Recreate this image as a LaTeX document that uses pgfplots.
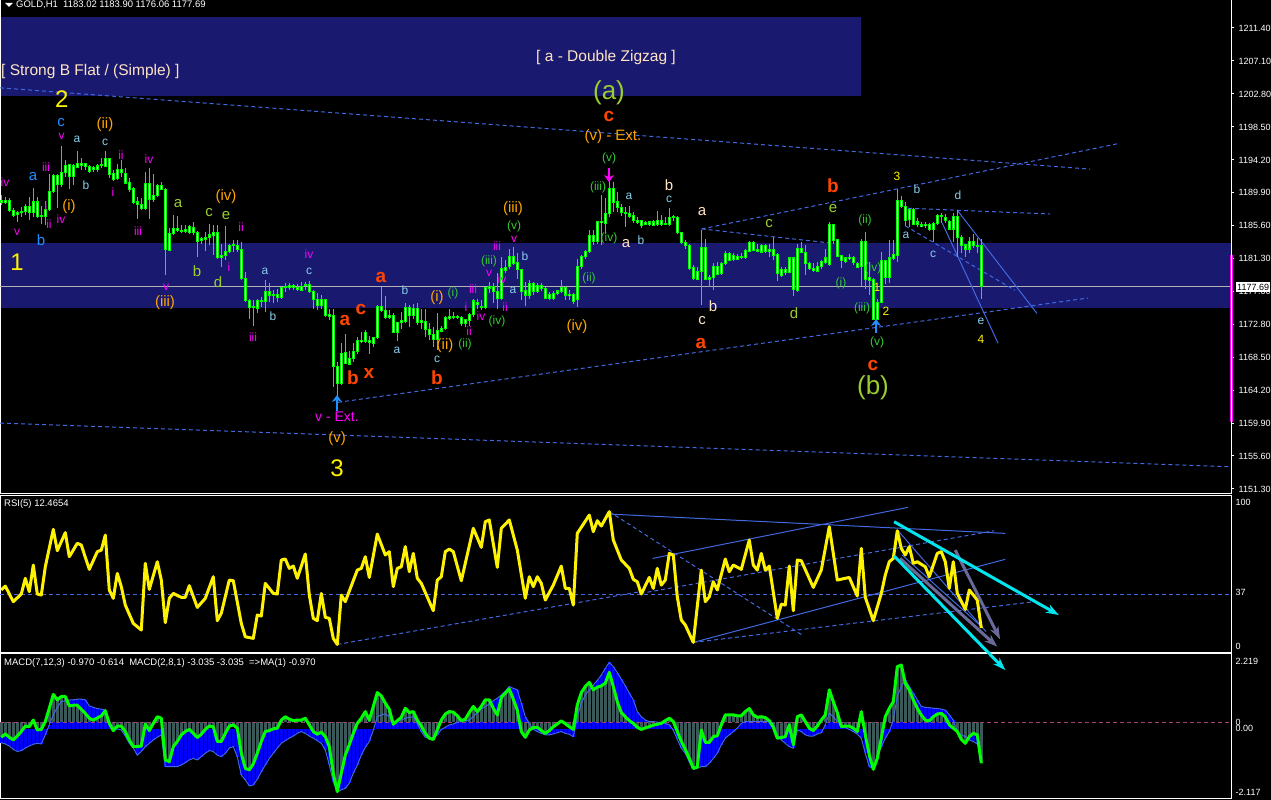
\documentclass[border=0pt]{standalone}
\usepackage{pgfplots}
\usepackage{pgfplotstable}
\usepackage{fontspec}
\setmainfont{Liberation Sans}
\pgfplotsset{compat=1.18}
\usetikzlibrary{arrows.meta}
\definecolor{band}{HTML}{191970}
\definecolor{tl}{HTML}{4169E1}
\definecolor{mag}{HTML}{FF00FF}
\definecolor{lb}{HTML}{87CEEB}
\definecolor{wor}{HTML}{FFA500}
\definecolor{wol}{HTML}{9ACD32}
\definecolor{wgr}{HTML}{32CD32}
\definecolor{wrd}{HTML}{FF4500}
\definecolor{wcr}{HTML}{FFE4C4}
\definecolor{wbl}{HTML}{1E90FF}
\definecolor{hgrey}{HTML}{3A5858}
\definecolor{harrow}{HTML}{6A6A9A}
\definecolor{carrow}{HTML}{00E5EE}
\newcommand{\wl}[5]{\node[text=#3,inner sep=0pt,font=\fontsize{#4}{#4}\selectfont] at ({#1pt},{800pt-#2pt}) {#5};}
\pgfplotstableread{
k h l t b
0 1189.6 1188.3 1188.9 1188.6
1 1189.4 1188.4 1188.9 1188.6
2 1189.2 1187.4 1188.9 1187.6
3 1187.9 1186.8 1187.6 1187.0
4 1187.6 1186.1 1187.3 1187.1
5 1188.1 1186.8 1187.4 1187.3
6 1188.4 1187.0 1188.1 1187.5
7 1189.3 1186.4 1188.1 1187.3
8 1190.6 1186.8 1188.7 1187.3
9 1189.4 1186.6 1188.7 1186.8
10 1188.2 1185.8 1186.9 1186.8
11 1188.9 1185.7 1187.7 1186.8
12 1192.4 1187.6 1190.1 1187.7
13 1192.4 1189.9 1192.1 1190.1
14 1192.4 1187.9 1192.1 1191.0
15 1196.0 1190.7 1192.6 1191.0
16 1194.2 1192.0 1193.5 1192.6
17 1193.7 1190.4 1193.6 1192.1
18 1193.7 1190.9 1193.4 1192.1
19 1195.3 1193.1 1193.7 1193.2
20 1194.4 1192.9 1193.7 1193.5
21 1193.8 1192.9 1193.7 1193.3
22 1193.5 1192.5 1193.3 1192.7
23 1193.4 1192.6 1193.2 1193.0
24 1193.7 1192.6 1193.4 1192.9
25 1194.5 1193.1 1193.6 1193.5
26 1195.4 1193.3 1194.4 1193.4
27 1194.5 1191.9 1194.4 1192.3
28 1192.9 1191.5 1192.4 1191.7
29 1193.7 1191.6 1192.9 1191.8
30 1194.2 1192.0 1192.9 1192.6
31 1193.1 1191.0 1192.4 1191.2
32 1191.8 1190.0 1191.2 1190.3
33 1190.7 1188.4 1190.4 1188.7
34 1189.3 1186.5 1188.7 1188.4
35 1189.2 1187.7 1188.4 1187.9
36 1192.6 1187.7 1191.1 1187.9
37 1193.2 1186.5 1191.1 1189.0
38 1192.4 1188.7 1189.6 1189.0
39 1191.1 1189.4 1190.9 1189.6
40 1191.3 1190.3 1190.9 1190.4
41 1190.5 1179.2 1190.3 1182.5
42 1185.3 1182.3 1184.6 1182.4
43 1187.0 1184.4 1185.3 1184.6
44 1186.9 1184.8 1185.3 1185.0
45 1185.7 1184.7 1185.0 1184.9
46 1185.7 1184.7 1185.1 1184.9
47 1185.7 1184.6 1185.5 1184.8
48 1186.1 1184.4 1185.4 1184.7
49 1184.9 1181.6 1184.7 1183.6
50 1184.2 1183.3 1183.9 1183.7
51 1184.8 1182.3 1184.1 1183.9
52 1185.9 1183.1 1184.4 1184.1
53 1185.7 1181.8 1184.7 1184.3
54 1185.7 1181.3 1184.7 1181.5
55 1183.3 1180.3 1181.7 1181.5
56 1185.6 1181.1 1182.2 1181.8
57 1183.3 1182.0 1183.0 1182.3
58 1183.7 1182.2 1183.1 1183.0
59 1183.8 1182.2 1183.0 1182.5
60 1183.5 1178.5 1182.5 1178.7
61 1179.6 1175.7 1178.7 1175.9
62 1176.1 1173.4 1175.9 1175.0
63 1175.9 1172.6 1175.1 1175.0
64 1176.1 1174.2 1175.9 1174.9
65 1176.3 1175.0 1175.9 1175.8
66 1178.5 1174.4 1177.0 1175.7
67 1178.2 1175.7 1177.0 1176.6
68 1177.2 1175.5 1176.6 1176.5
69 1177.4 1175.7 1176.6 1176.3
70 1177.6 1176.1 1177.6 1176.3
71 1178.1 1177.0 1177.7 1177.6
72 1178.1 1177.2 1177.8 1177.6
73 1178.0 1177.3 1177.8 1177.6
74 1178.0 1177.1 1177.6 1177.3
75 1178.3 1177.1 1177.7 1177.2
76 1178.3 1177.3 1177.9 1177.8
77 1178.4 1176.9 1177.9 1177.0
78 1177.3 1174.8 1177.0 1176.0
79 1176.8 1174.6 1176.0 1175.2
80 1176.6 1174.8 1176.0 1175.2
81 1176.1 1173.7 1176.0 1173.9
82 1174.8 1173.3 1174.0 1173.8
83 1174.8 1164.6 1173.9 1167.3
84 1167.9 1163.4 1167.3 1165.0
85 1170.3 1164.8 1168.9 1165.0
86 1171.5 1167.6 1169.1 1167.7
87 1169.3 1167.4 1168.3 1167.6
88 1170.3 1167.9 1169.2 1168.3
89 1171.1 1168.9 1170.7 1169.2
90 1171.8 1170.3 1170.7 1170.5
91 1172.0 1170.3 1171.7 1170.6
92 1171.3 1168.9 1170.6 1170.4
93 1171.1 1169.8 1171.0 1170.3
94 1175.3 1170.9 1175.1 1171.0
95 1177.6 1174.4 1175.1 1174.6
96 1176.4 1173.5 1174.6 1173.7
97 1174.6 1173.5 1173.9 1173.7
98 1174.2 1171.6 1173.9 1171.7
99 1173.1 1170.6 1173.0 1171.7
100 1174.4 1172.2 1173.2 1173.0
101 1175.5 1172.9 1174.9 1173.1
102 1175.3 1172.4 1174.9 1173.9
103 1175.4 1173.5 1174.8 1173.9
104 1175.5 1172.7 1174.8 1173.0
105 1174.8 1172.2 1173.2 1173.0
106 1174.8 1171.1 1173.1 1172.1
107 1172.9 1170.7 1172.1 1171.4
108 1172.4 1169.8 1171.4 1170.8
109 1174.2 1169.4 1171.9 1170.8
110 1172.6 1171.8 1172.2 1171.9
111 1173.8 1172.0 1173.6 1172.2
112 1174.7 1173.3 1173.8 1173.6
113 1174.4 1173.4 1173.8 1173.7
114 1174.0 1173.4 1173.8 1173.7
115 1173.8 1172.6 1173.6 1172.9
116 1173.5 1172.4 1173.4 1172.9
117 1174.2 1172.6 1174.0 1173.3
118 1176.1 1173.7 1175.8 1174.0
119 1176.1 1174.8 1175.6 1175.3
120 1175.9 1174.6 1175.1 1175.0
121 1177.6 1174.8 1177.5 1175.0
122 1178.3 1176.8 1177.7 1177.5
123 1178.1 1175.5 1177.7 1177.0
124 1179.4 1174.8 1177.0 1176.1
125 1181.6 1175.9 1180.0 1176.1
126 1181.1 1179.5 1180.2 1179.8
127 1182.6 1180.0 1181.6 1180.3
128 1182.9 1180.5 1181.6 1180.7
129 1182.0 1178.7 1180.8 1179.9
130 1180.0 1175.9 1179.9 1177.1
131 1178.3 1175.1 1177.2 1176.6
132 1178.5 1176.1 1178.1 1176.6
133 1178.3 1176.6 1178.1 1177.1
134 1178.2 1176.8 1177.8 1177.1
135 1178.1 1177.1 1177.8 1177.4
136 1177.6 1176.1 1177.4 1176.2
137 1177.0 1176.0 1176.6 1176.2
138 1177.1 1175.9 1176.8 1176.1
139 1177.3 1176.6 1177.1 1176.8
140 1178.6 1176.8 1177.5 1177.0
141 1177.7 1175.9 1177.6 1176.6
142 1177.2 1175.9 1176.7 1176.5
143 1176.9 1175.4 1176.6 1175.8
144 1181.3 1175.0 1180.3 1176.0
145 1181.8 1180.0 1181.6 1180.3
146 1182.4 1181.3 1182.3 1181.6
147 1185.0 1182.0 1184.3 1182.3
148 1185.0 1183.1 1184.3 1183.6
149 1186.3 1183.3 1186.2 1183.6
150 1189.6 1183.1 1186.2 1186.0
151 1189.2 1184.6 1187.2 1185.9
152 1191.6 1186.7 1190.5 1187.2
153 1191.3 1187.4 1190.5 1188.7
154 1190.0 1187.4 1188.7 1188.0
155 1188.5 1186.9 1188.0 1187.3
156 1188.0 1185.5 1187.3 1187.2
157 1188.2 1186.6 1187.2 1186.9
158 1187.4 1186.0 1186.9 1186.3
159 1186.8 1185.9 1186.3 1186.1
160 1186.4 1185.3 1186.3 1185.6
161 1186.3 1185.7 1186.0 1185.8
162 1186.3 1185.6 1186.1 1185.8
163 1186.4 1185.6 1186.1 1185.7
164 1187.5 1185.6 1186.3 1185.8
165 1187.0 1185.6 1186.3 1185.8
166 1186.8 1185.7 1185.9 1185.8
167 1187.9 1185.6 1186.7 1185.8
168 1187.0 1186.3 1186.8 1186.7
169 1186.9 1184.5 1186.7 1184.7
170 1184.8 1183.3 1184.7 1183.4
171 1183.8 1182.6 1183.4 1183.0
172 1183.3 1179.9 1183.0 1180.1
173 1180.5 1178.5 1180.2 1178.7
174 1180.3 1178.5 1179.7 1178.6
175 1185.1 1175.3 1182.8 1179.7
176 1183.9 1178.5 1182.8 1178.6
177 1179.2 1177.6 1178.9 1178.6
178 1180.8 1177.3 1180.3 1178.9
179 1180.9 1179.2 1180.3 1179.3
180 1180.9 1179.2 1180.7 1179.4
181 1182.3 1180.5 1182.0 1180.7
182 1182.2 1181.0 1182.0 1181.1
183 1182.0 1181.0 1181.7 1181.2
184 1181.9 1181.1 1181.6 1181.2
185 1182.0 1181.3 1181.6 1181.5
186 1182.6 1181.3 1182.4 1181.5
187 1183.6 1182.2 1183.4 1182.3
188 1183.6 1182.3 1183.4 1182.4
189 1183.3 1182.2 1182.5 1182.3
190 1183.3 1182.1 1183.0 1182.2
191 1183.2 1182.0 1183.0 1182.3
192 1183.2 1181.6 1182.5 1182.3
193 1184.2 1181.1 1182.5 1181.8
194 1182.0 1178.4 1181.9 1179.4
195 1180.2 1178.9 1179.9 1179.2
196 1180.2 1179.2 1179.9 1179.5
197 1181.6 1179.4 1181.4 1179.5
198 1181.6 1176.4 1181.4 1177.3
199 1183.3 1177.0 1182.6 1177.2
200 1183.5 1182.0 1182.6 1182.1
201 1183.1 1179.2 1182.1 1180.7
202 1180.9 1179.8 1180.7 1180.0
203 1180.7 1179.6 1180.0 1179.8
204 1180.9 1179.6 1180.3 1179.7
205 1181.1 1180.0 1180.9 1180.3
206 1182.6 1180.6 1181.4 1180.8
207 1186.1 1180.4 1185.8 1180.6
208 1185.9 1183.3 1185.8 1183.7
209 1183.9 1181.5 1183.8 1181.6
210 1181.8 1180.1 1181.7 1181.1
211 1181.6 1180.7 1181.4 1181.0
212 1181.9 1181.1 1181.5 1181.3
213 1181.7 1180.5 1181.5 1180.8
214 1180.9 1180.1 1180.7 1180.2
215 1183.9 1177.7 1183.6 1180.3
216 1184.8 1177.4 1183.6 1178.6
217 1180.9 1176.6 1178.8 1178.5
218 1178.8 1173.3 1178.6 1173.4
219 1176.1 1173.3 1175.6 1173.4
220 1182.2 1175.5 1181.1 1175.6
221 1181.1 1178.0 1181.1 1178.9
222 1183.7 1178.1 1181.4 1178.9
223 1183.8 1181.1 1181.8 1181.4
224 1190.4 1180.9 1188.9 1181.7
225 1189.5 1187.9 1188.9 1188.1
226 1188.7 1185.6 1188.1 1186.3
227 1187.9 1185.4 1187.7 1186.4
228 1187.9 1185.7 1187.7 1185.8
229 1186.6 1185.4 1186.1 1185.8
230 1186.1 1185.4 1185.7 1185.5
231 1186.1 1185.3 1185.8 1185.6
232 1186.0 1184.9 1185.8 1185.1
233 1186.1 1183.5 1185.9 1185.1
234 1187.1 1185.7 1186.9 1185.9
235 1187.3 1186.0 1186.9 1186.8
236 1187.1 1186.0 1186.7 1186.3
237 1186.4 1185.0 1186.2 1185.2
238 1187.3 1183.5 1186.8 1185.2
239 1187.7 1181.6 1186.8 1184.1
240 1184.4 1182.1 1184.1 1183.1
241 1183.3 1181.6 1183.1 1182.6
242 1184.2 1182.1 1183.5 1182.6
243 1184.5 1182.7 1183.6 1183.0
244 1184.0 1182.0 1183.0 1182.9
245 1183.90 1176.06 1183.02 1177.69
}\candles
\pgfplotstableread{
k r
0 38.9
1 41.6
3 30.8
5 36.1
6 47
7 37.7
8 56.2
9 36.1
10 35.4
11 55
13 81
14 66.2
16 78.7
17 62
19 71.3
20 70.1
22 53.2
24 65.5
25 66.6
26 77
27 38.9
28 33.1
29 50.4
30 41.2
31 28.4
33 15.7
35 11.1
36 57.4
37 39.3
39 58.5
40 45.8
41 16.2
42 33.1
43 36.5
45 33.8
46 33.8
47 41.9
49 26.8
51 33.1
53 48.1
54 17.6
55 22.7
57 45.8
58 45.3
60 15.7
61 6.4
63 5.3
64 21.5
65 20.8
66 43.5
68 36.5
69 36.1
70 59.7
71 60.4
72 53.9
73 55.5
74 47
76 63.9
77 35.4
78 19.2
79 17.6
80 36.5
81 19.9
82 19.2
83 5.3
84 1.1
85 35.4
86 30.8
89 52.7
90 53.9
91 62
92 47.6
94 77.7
96 63.2
97 65.5
98 41.2
99 53.9
100 55
101 69
102 51.6
103 64.3
104 47
105 43.5
108 24.5
109 45.8
110 48.1
111 65.5
112 67.3
113 65.5
115 45.3
118 81.7
120 68.5
121 86.3
122 87.5
124 54.6
125 81.7
127 87.5
129 66.6
131 33.1
132 48.1
133 41.2
134 48.1
135 43.5
136 31.9
138 42.3
140 55.5
141 40
142 40
143 28.4
144 78.2
147 90.9
148 79.4
149 87
150 83.3
152 93.3
153 73.6
155 59.7
157 53.9
158 46.3
159 44.6
160 36.1
162 47.6
163 40
164 53.9
165 42.3
166 45.8
167 64.3
168 63.2
169 34.2
170 18
171 14.6
173 2.5
175 52.7
176 30.8
177 34.2
178 44.6
179 38.9
181 60.4
182 51.6
183 56.2
185 53.2
187 73.6
188 56.2
189 52.7
190 64.3
191 52.7
192 55.5
194 19.2
195 29.1
196 28.4
197 55.5
198 24.5
199 59.7
200 59.2
203 40.7
205 52.7
207 82.8
209 45.8
212 47.6
214 34.7
215 67.8
216 33.8
218 17.6
220 36.5
221 49.3
222 58.5
223 60.8
224 80
225 67.8
226 63.2
227 69
228 57.4
229 58.5
231 55
232 48.1
234 64.3
235 65.5
236 58.5
237 40
238 58.5
239 36.5
241 25.4
242 38.9
244 31.9
245 12.47
}\rsi
\pgfplotstableread{
k g s
0 -0.29 -0.47
1 -0.18 -0.51
2 -0.29 -0.58
3 -0.38 -0.69
4 -0.25 -0.76
5 -0.10 -0.73
6 0.08 -0.65
7 0.06 -0.58
8 0.28 -0.52
9 -0.05 -0.49
10 -0.03 -0.51
11 0.23 -0.21
12 0.67 0.12
13 1.13 0.45
14 0.95 0.70
15 1.06 0.89
16 1.06 0.92
17 0.75 0.95
18 0.77 0.95
19 0.77 0.97
20 0.64 0.97
21 0.50 0.95
22 0.34 0.75
23 0.28 0.70
24 0.35 0.66
25 0.42 0.64
26 0.59 0.61
27 0.17 0.23
28 -0.07 0.01
29 0.08 -0.01
30 0.08 -0.05
31 -0.10 -0.25
32 -0.38 -0.49
33 -0.60 -0.65
34 -0.60 -0.88
35 -0.58 -0.76
36 0.15 -0.60
37 -0.07 -0.49
38 0.17 -0.38
39 0.39 -0.29
40 0.34 -0.21
41 -1.04 -1.26
42 -1.10 -1.26
43 -0.60 -1.26
44 -0.43 -1.26
45 -0.21 -1.21
46 -0.10 -1.13
47 -0.03 -1.04
48 -0.16 -0.99
49 -0.30 -1.04
50 -0.19 -0.93
51 -0.03 -0.82
52 0.08 -0.73
53 0.06 -0.76
54 -0.43 -0.88
55 -0.43 -0.93
56 -0.16 -0.82
57 0.08 -0.65
58 0.12 -0.60
59 0.01 -0.93
60 -0.82 -1.54
61 -1.32 -1.70
62 -1.37 -1.90
63 -1.17 -1.87
64 -0.82 -1.68
65 -0.43 -1.43
66 -0.10 -1.21
67 -0.07 -0.99
68 -0.01 -0.82
69 0.01 -0.65
70 0.28 -0.49
71 0.39 -0.40
72 0.31 -0.32
73 0.26 -0.25
74 0.28 -0.16
75 0.28 -0.10
76 0.34 -0.16
77 0.12 -0.25
78 -0.10 -0.32
79 -0.19 -0.40
80 -0.12 -0.49
81 -0.27 -0.71
82 -0.60 -1.21
83 -1.48 -1.76
84 -2.09 -2.09
85 -1.48 -2.03
86 -0.88 -1.98
87 -0.54 -1.81
88 -0.16 -1.48
89 0.17 -1.21
90 0.34 -0.88
91 0.56 -0.62
92 0.28 -0.43
93 0.73 -0.05
94 1.19 0.39
95 1.08 0.45
96 0.84 0.48
97 0.64 0.39
98 0.14 0.20
99 0.26 0.26
100 0.37 0.28
101 0.67 0.34
102 0.53 0.37
103 0.56 0.39
104 0.28 0.17
105 0.08 -0.10
106 -0.16 -0.29
107 -0.32 -0.32
108 -0.36 -0.32
109 -0.05 -0.21
110 0.28 -0.03
111 0.48 0.04
112 0.56 0.12
113 0.54 0.15
114 0.42 0.20
115 0.26 0.23
116 0.31 0.26
117 0.53 0.28
118 0.73 0.39
119 0.56 0.53
120 0.73 0.64
121 0.95 0.73
122 0.95 0.81
123 0.67 0.92
124 0.45 1.00
125 1.03 1.11
126 1.17 1.24
127 1.31 1.39
128 0.97 1.33
129 0.61 1.28
130 -0.10 0.84
131 -0.29 0.39
132 -0.05 0.17
133 0.03 -0.03
134 0.04 -0.10
135 -0.07 -0.16
136 -0.16 -0.21
137 -0.07 -0.21
138 0.06 -0.18
139 0.15 -0.14
140 0.25 -0.10
141 0.16 -0.16
142 0.06 -0.19
143 -0.03 -0.27
144 0.78 0.39
145 1.19 0.84
146 1.39 1.11
147 1.53 1.28
148 1.28 1.44
149 1.37 1.59
150 1.41 1.77
151 1.50 1.99
152 1.86 2.19
153 1.39 2.05
154 0.89 1.85
155 0.53 1.63
156 0.39 1.41
157 0.26 1.17
158 0.17 0.95
159 0.04 0.56
160 -0.03 0.39
161 0.02 0.28
162 0.06 0.23
163 0.11 0.23
164 0.14 0.21
165 0.17 0.20
166 0.26 0.17
167 0.34 0.12
168 0.23 -0.05
169 -0.10 -0.36
170 -0.43 -0.65
171 -0.69 -0.82
172 -0.99 -1.10
173 -1.32 -1.35
174 -1.28 -1.32
175 -0.05 -1.26
176 -0.46 -1.26
177 -0.46 -1.15
178 -0.27 -0.99
179 -0.24 -0.82
180 0.12 -0.54
181 0.45 -0.32
182 0.45 -0.21
183 0.45 -0.10
184 0.42 0.01
185 0.42 0.17
186 0.56 0.23
187 0.66 0.23
188 0.45 0.23
189 0.37 0.23
190 0.39 0.23
191 0.36 0.23
192 0.26 0.23
193 0.04 0.17
194 -0.32 -0.21
195 -0.30 -0.38
196 -0.27 -0.49
197 0.12 -0.60
198 -0.54 -0.65
199 0.39 -0.05
200 0.45 -0.10
201 0.23 -0.21
202 0.01 -0.25
203 -0.07 -0.25
204 0.08 -0.18
205 0.28 -0.14
206 0.45 0.12
207 1.28 0.50
208 0.89 0.39
209 0.53 0.23
210 0.06 0.12
211 0.08 0.04
212 0.08 -0.03
213 0.01 -0.10
214 -0.10 -0.19
215 0.56 -0.32
216 -0.21 -0.82
217 -0.88 -1.26
218 -1.35 -1.32
219 -0.99 -0.93
220 -0.32 -0.60
221 0.39 -0.32
222 0.67 -0.10
223 0.89 0.28
224 2.05 1.06
225 2.10 1.39
226 1.50 1.61
227 1.28 1.39
228 0.95 1.17
229 0.67 0.95
230 0.45 0.73
231 0.28 0.70
232 0.25 0.69
233 0.39 0.67
234 0.48 0.67
235 0.50 0.64
236 0.39 0.61
237 0.12 0.45
238 0.01 0.28
239 -0.10 -0.10
240 -0.36 -0.21
241 -0.49 -0.27
242 -0.27 -0.38
243 -0.16 -0.43
244 -0.21 -0.51
245 -1.15 -0.61
}\macd
\pgfplotsset{
  panel/.style={
    scale only axis, width=1231.5pt,
    anchor=south west,
    xmin=-0.325, xmax=307.55,
    xtick=\empty,
    axis line style={white,line width=1pt},
    ytick pos=right, yticklabel pos=right,
    tick style={white,line width=1pt},
    yticklabel style={text=white,font=\fontsize{9}{9}\selectfont,anchor=west,inner sep=0pt,xshift=1pt},
  },
  errb/.style n args={2}{draw=none,mark=none,forget plot,
    error bars/.cd,y dir=plus,y explicit,error mark=none,
    error bar style={draw=#1,line width=#2,solid}},
  dl/.style={tl,line width=1pt,dash pattern=on 4pt off 3pt,forget plot},
  sl/.style={tl,line width=1pt,forget plot},
}
\begin{document}
\begin{tikzpicture}[x=1pt,y=1pt]
\path[use as bounding box] (0pt,0pt) rectangle (1271pt,800pt);
\fill[black] (0pt,0pt) rectangle (1271pt,800pt);
% main price panel
\begin{axis}[panel, at={(0pt,306.5pt)}, height=494.5pt,
  ymin=1150.71, ymax=1215.18,
  ytick={1211.4,1207.1,1202.8,1198.5,1194.2,1189.9,1185.6,1181.3,1177.0,1172.8,1168.5,1164.2,1159.9,1155.6,1151.3},
  yticklabels={1211.40,1207.10,1202.80,1198.50,1194.20,1189.90,1185.60,1181.30,1177.00,1172.80,1168.50,1164.20,1159.90,1155.60,1151.30},
  tick align=outside, major tick length=3pt,
  yticklabel style={xshift=3pt},
]
\addplot[fill=band,draw=none,forget plot] coordinates {(-0.075,1212.83) (214.9,1212.83) (214.9,1202.53) (-0.075,1202.53)} --cycle;
\addplot[fill=band,draw=none,forget plot] coordinates {(-0.075,1183.33) (307.55,1183.33) (307.55,1174.93) (-0.075,1174.93)} --cycle;
\addplot[color=black!30,line width=0.8pt,forget plot] coordinates {(-0.325,1177.69) (307.55,1177.69)};
\addplot[dl] coordinates {(-0.3,1203.6) (272.2,1193.0)};
\addplot[dl] coordinates {(-0.3,1159.9) (307,1154.2)};
\addplot[dl] coordinates {(84.2,1162.6) (271.7,1176.2)};
\addplot[dl] coordinates {(175.1,1185.2) (279,1196.3)};
\addplot[dl] coordinates {(175.1,1185.2) (206.7,1183.4)};
\addplot[dl] coordinates {(226.7,1187.9) (262.2,1187.15)};
\addplot[dl] coordinates {(226,1185.6) (253.4,1177.2)};
\addplot[sl] coordinates {(235.2,1186.0) (249.2,1170.3)};
\addplot[sl] coordinates {(239.2,1187.5) (258.9,1174.2)};
% candles: wick, body edge, body centre
\addplot[errb={green}{1pt}] table[x=k,y=l,y error plus expr=\thisrow{h}-\thisrow{l}] {\candles};
\addplot[errb={green}{3.4pt}] table[x=k,y expr=\thisrow{b}-0.08,y error plus expr=\thisrow{t}-\thisrow{b}+0.16] {\candles};
\addplot[errb={white}{1.4pt}] table[x=k,y expr=\thisrow{b}+0.06,y error plus expr={max(\thisrow{t}-\thisrow{b}-0.12,0)}] {\candles};
\end{axis}
% MACD panel
\begin{axis}[panel, at={(0pt,2pt)}, height=144pt,
  ymin=-2.301, ymax=2.467,
  ytick={2.219,0.207,0,-2.117},
  yticklabels={2.219,0,0.00,-2.117},
  major tick length=0pt, yticklabel style={xshift=3pt},
]
\addplot[errb={blue}{3pt}] table[x=k,y expr={min(\thisrow{s},0)},y error plus expr=abs(\thisrow{s})] {\macd};
\addplot[errb={hgrey}{2.6pt}] table[x=k,y expr={min(\thisrow{g},0.207)},y error plus expr=abs(\thisrow{g}-0.207)] {\macd};
\addplot[color=black!40!magenta,line width=1pt,dash pattern=on 4pt off 3pt,forget plot] coordinates {(-0.325,0.207) (307.55,0.207)};
\addplot[tl,line width=1pt,forget plot] table[x=k,y=s] {\macd};
\addplot[green,line width=3pt,line join=round,forget plot] table[x=k,y=g] {\macd};
\end{axis}
% RSI panel
\begin{axis}[panel, at={(0pt,147.5pt)}, height=157pt,
  ymin=-4.51, ymax=104.5, clip=false,
  ytick={100,37,0}, yticklabels={100,37,0},
  major tick length=0pt, yticklabel style={xshift=3pt},
]
\addplot[dl] coordinates {(-0.325,36.1) (307.55,36.1)};
\addplot[sl] coordinates {(152,91.6) (251,78.2)};
\addplot[dl] coordinates {(152,93.3) (200.6,6.9)};
\addplot[sl] coordinates {(162.8,60.8) (226.7,96.3)};
\addplot[sl] coordinates {(173,2.5) (251,60.2)};
\addplot[dl] coordinates {(159.8,36.5) (248.2,80)};
\addplot[dl] coordinates {(173,2.5) (258.4,30.8)};
\addplot[dl] coordinates {(84,1.1) (159.7,37.7)};
\addplot[sl] coordinates {(224.2,80) (246.2,10)};
\addplot[sl] coordinates {(225.2,63.2) (245.1,13.4)};
\addplot[yellow,line width=3pt,line join=round,forget plot] table[x=k,y=r] {\rsi};
\addplot[harrow,line width=3pt,-{Stealth[length=13pt,width=9pt]},forget plot] coordinates {(238.5,66.6) (249.7,4.6)};
\addplot[harrow,line width=3pt,-{Stealth[length=13pt,width=9pt]},forget plot] coordinates {(224.7,60.8) (249,-0.5)};
\addplot[carrow,line width=3pt,-{Stealth[length=13pt,width=9pt]},forget plot] coordinates {(223.2,86.3) (264.4,21.5)};
\addplot[carrow,line width=3pt,-{Stealth[length=13pt,width=9pt]},forget plot] coordinates {(223.2,62.5) (251,-16.7)};
\end{axis}
% right edge: magenta bar and price box
\draw[mag,line width=3pt] (1231.5pt,545pt) -- (1231.5pt,378pt);
\draw[white,line width=1pt] (1231.5pt,545pt) -- (1231.5pt,378pt);
\node[fill=white,text=black,inner xsep=1pt,inner ysep=1.5pt,anchor=west,font=\fontsize{9}{9}\selectfont] at (1236pt,513pt) {1177.69};
% header texts
\fill[white] (5pt,797pt) -- (13pt,797pt) -- (9pt,793pt) -- cycle;
\node[text=white,inner sep=0pt,anchor=west,font=\fontsize{9.5}{9.5}\selectfont] at (16pt,795.5pt) {GOLD,H1 \ 1183.02 1183.90 1176.06 1177.69};
\node[text=white,inner sep=0pt,anchor=west,font=\fontsize{9.5}{9.5}\selectfont] at (4pt,296pt) {RSI(5) 12.4654};
\node[text=white,inner sep=0pt,anchor=west,font=\fontsize{9.5}{9.5}\selectfont] at (4pt,137pt) {MACD(7,12,3) -0.970 -0.614 \ MACD(2,8,1) -3.035 -3.035 \ =>MA(1) -0.970};
\node[text=wcr,inner sep=0pt,anchor=west,font=\fontsize{15.5}{15.5}\selectfont] at (1pt,728pt) {[ Strong B Flat / (Simple) ]};
\wl{606}{58}{wcr}{15.5}{[ a - Double Zigzag ]}
% arrows
\draw[wbl,line width=2.5pt,-{Stealth[length=7pt,width=10pt]}] (337pt,389pt) -- (337pt,405pt);
\draw[wbl,line width=2.5pt,-{Stealth[length=7pt,width=10pt]}] (876pt,467pt) -- (876pt,481pt);
\draw[mag,line width=2.5pt,-{Stealth[length=7pt,width=10pt]}] (609pt,632pt) -- (609pt,618pt);
% large labels
\wl{61.7}{99}{yellow}{24}{2}
\wl{17}{262}{yellow}{24}{1}
\wl{337}{468}{yellow}{24}{3}
\wl{609}{93}{wol}{26}{(a)}
\wl{873}{388}{wol}{26}{(b)}
% dodger blue
\wl{61}{123}{wbl}{15}{c}
\wl{33}{177}{wbl}{15}{a}
\wl{41}{240}{wbl}{15}{b}
% magenta
\foreach \x/\y/\t in {61.7/136/v,46/167/iii,5/182/iv,17/232/v,46/206/i,49/224/ii,61/219/iv,121/155/ii,113/192/i,149/159/iv,138/231/iii,241/227/ii,229/267/i,166/287/v,253/337/iii,309/254/iv,497/246/iii,514/239/v,489/273/v,502/279/iv,473/289/iii,466/307/i,481/316/iv,469/331/ii,505/307/ii}{\wl{\x}{\y}{mag}{12}{\t}}
\wl{337}{417}{mag}{14}{v - Ext.}
% light blue
\foreach \x/\y/\t in {77/139/a,86/185/b,105/142/c,265/271/a,273/316/b,309/271/c,405/290/b,397/350/a,525/256/b,513/290/a,437/359/c,629/196/a,641/240/b,669/199/c,917/189/b,958/195/d,906/235/a,933/254/c,981/321/e}{\wl{\x}{\y}{lb}{12}{\t}}
% orange
\foreach \x/\y/\t in {69/207/(i),105/125/(ii),165/303/(iii),226/197/(iv),337/439/(v),513/209/(iii),437/298/(i),445/346/(ii),577/327/(iv)}{\wl{\x}{\y}{wor}{15}{\t}}
\wl{613}{137}{wor}{15}{(v) - Ext.}
% olive
\foreach \x/\y/\t in {178/204/a,209/213/c,226/216/e,197/271/b,218/282/d,769/224/c,794/313/d,833/209/e}{\wl{\x}{\y}{wol}{15}{\t}}
% green
\foreach \x/\y/\t in {609/158/(v),598/187/(iii),609/238/(iv),589/278/(ii),453/293/(i),465/344/(ii),497/321/(iv),489/261/(iii),514/226/(v),865/220/(ii),873/268/(iv),841/283/(i),862/308/(iii),877/342/(v)}{\wl{\x}{\y}{wgr}{12}{\t}}
% cream
\foreach \x/\y/\t in {669/185/b,626/244/a,702/212/a,713/306/b,702/321/c}{\wl{\x}{\y}{wcr}{15}{\t}}
% red
\foreach \x/\y/\t in {345/320/a,361/309/c,353/378/b,369/373/x,381/277/a,609/116/c,437/378/b,701/343/a,833/186/b,873/365/c}{\wl{\x}{\y}{wrd}{19}{\bfseries\t}}
% yellow small
\foreach \x/\y/\t in {897/176/3,981/339/4,877/287/1,886/311/2}{\wl{\x}{\y}{yellow}{12}{\t}}
\end{tikzpicture}
\end{document}
